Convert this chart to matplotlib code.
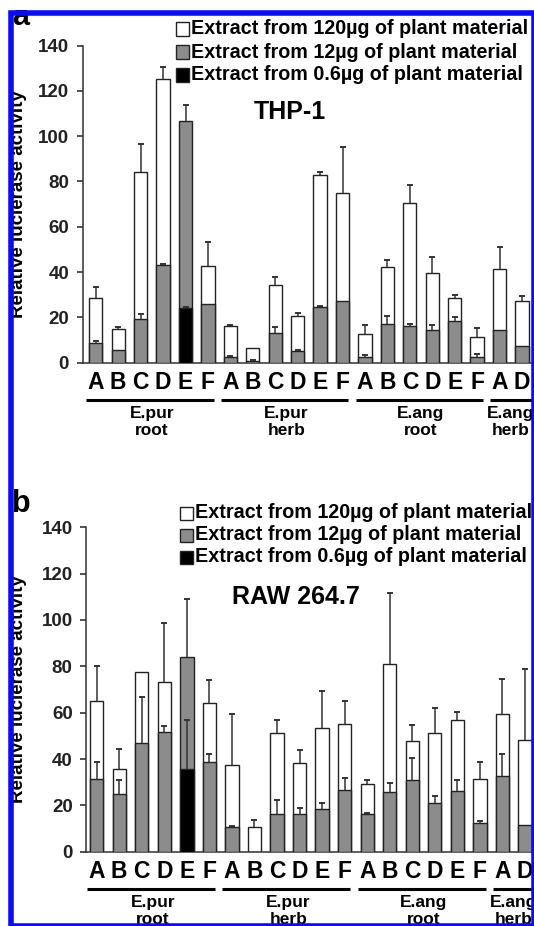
import numpy as np
import matplotlib
matplotlib.use('Agg')
import matplotlib.pyplot as plt
from matplotlib.patches import Rectangle

plt.rcParams['font.family'] = ['Liberation Sans', 'DejaVu Sans']
plt.rcParams['font.weight'] = 'bold'

W, H = 534, 926
nan = np.nan

letters = ['A', 'B', 'C', 'D', 'E', 'F'] * 3 + ['A', 'D']
group_names = ['E.pur\nroot', 'E.pur\nherb', 'E.ang\nroot', 'E.ang\nherb']
group_first = [0, 6, 12, 18]
group_last = [5, 11, 17, 19]

legend_labels = ['Extract from 120µg of plant material',
                 'Extract from 12µg of plant material',
                 'Extract from 0.6µg of plant material']
fills = ['white', '#8c8c8c', 'black']

# THP-1 (values, upper SD)
thp_120 = [28.4, 14.9, 84.3, 125.0, nan, 42.8, 16.0, 6.3, 34.4, 20.6,
           82.9, 75.0, 12.8, 42.2, 70.4, 39.4, 28.4, 11.5, 41.2, 27.2]
thp_120_sd = [5.1, 1.0, 12.2, 5.6, nan, 10.3, 0.5, 0, 3.5, 1.2,
              1.4, 20.0, 3.7, 3.1, 8.0, 7.4, 1.3, 3.8, 9.7, 2.2]
thp_12 = [8.5, 5.6, 19.4, 43.1, 106.7, 26.0, 2.6, 0.9, 13.2, 5.1,
          24.7, 27.1, 2.6, 17.1, 16.2, 14.3, 18.4, 2.6, 14.4, 7.5]
thp_12_sd = [1.1, 0, 1.9, 0.6, 7.0, 0, 0.4, 0.5, 2.7, 0.4,
             0.4, 0, 0.6, 3.5, 0.7, 2.2, 1.9, 1.1, 0, 0]
thp_06 = [nan] * 4 + [24.3] + [nan] * 15
thp_06_sd = [nan] * 4 + [0.3] + [nan] * 15

# RAW 264.7
raw_120 = [65.2, 35.5, 77.7, 73.4, nan, 64.2, 37.4, 10.8, 51.1, 38.3,
           53.5, 55.1, 29.4, 81.0, 47.8, 51.4, 56.8, 31.5, 59.4, 48.1]
raw_120_sd = [15.1, 8.8, 0, 25.3, nan, 10.0, 22.2, 2.9, 5.6, 5.4,
              15.7, 9.9, 1.4, 30.8, 7.0, 10.8, 3.5, 7.2, 15.0, 30.9]
raw_12 = [31.2, 25.0, 47.1, 51.7, 83.9, 38.8, 10.6, nan, 16.1, 16.1,
          18.3, 26.6, 16.1, 25.6, 30.9, 21.2, 26.2, 12.2, 32.5, 11.4]
raw_12_sd = [7.6, 5.9, 19.5, 2.7, 25.2, 3.4, 0.5, nan, 6.1, 2.6,
             2.6, 5.1, 0.4, 4.0, 9.4, 2.7, 4.6, 1.2, 9.7, 0]
raw_06 = [nan] * 4 + [35.7] + [nan] * 15
raw_06_sd = [nan] * 4 + [21.1] + [nan] * 15


def fx(px):
    return px / W


def fy(py):
    return 1 - py / H


def panel(fig, series, title, spine_x, first_x, step, y0, y140,
          title_xy, legend_x, legend_rows, tag, tag_y):
    xmin = (spine_x - first_x) / step
    xmax = 20.6
    ax = fig.add_axes([fx(spine_x), fy(y0), (xmax - xmin) * step / W, (y0 - y140) / H])
    ax_h = y0 - y140

    x = np.arange(20)
    for k, (vals, sd) in enumerate(series):
        vals = np.array(vals, float)
        sd = np.array(sd, float)
        m = ~np.isnan(vals)
        ax.bar(x[m], vals[m], width=0.59, color=fills[k], edgecolor='#222222',
               linewidth=1.0, zorder=2 + k)
        e = m & (np.nan_to_num(sd) > 0)
        ax.vlines(x[e], vals[e], vals[e] + sd[e], color='#333333', lw=1.1, zorder=6)
        ax.plot(x[e], vals[e] + sd[e], linestyle='none', marker='_', ms=4,
                mew=1.4, color='#333333', zorder=6)

    ax.set_xlim(xmin, xmax)
    ax.set_ylim(0, 140)
    ax.set_yticks(range(0, 141, 20))
    ax.set_xticks([])
    ax.tick_params(axis='y', length=4.3, width=1.1, pad=5.5, labelsize=13.5, colors='#222222')
    for s in ['top', 'right']:
        ax.spines[s].set_visible(False)
    for s in ['left', 'bottom']:
        ax.spines[s].set_linewidth(1.1)
        ax.spines[s].set_color('#333333')

    for i, lab in enumerate(letters):
        ax.annotate(lab, (i, 0), xycoords=('data', 'axes fraction'),
                    xytext=(0, -20), textcoords='offset pixels',
                    ha='center', va='center', fontsize=16.5, annotation_clip=False)

    tr = ax.get_xaxis_transform()
    for name, a, b in zip(group_names, group_first, group_last):
        end = b + 0.25 if b - a == 5 else xmax
        ax.plot([a - 0.42, end], [-37 / ax_h] * 2, color='black', lw=2.2,
                transform=tr, clip_on=False, solid_capstyle='butt')
        ax.annotate(name, ((a + b) / 2, 0), xycoords=('data', 'axes fraction'),
                    xytext=(0, -59), textcoords='offset pixels', ha='center',
                    va='center', fontsize=12.5, linespacing=1.15,
                    annotation_clip=False)

    fig.text(fx(19), fy((y0 + y140) / 2), 'Relative lucierase activity',
             rotation=90, ha='center', va='center', fontsize=13.5)
    fig.text(fx(title_xy[0]), fy(title_xy[1]), title, ha='center', va='center',
             fontsize=18)
    fig.text(fx(12), fy(tag_y), tag, ha='left', va='baseline', fontsize=22)

    for lab, col, ry in zip(legend_labels, fills, legend_rows):
        fig.add_artist(Rectangle((fx(legend_x), fy(ry + 6.5)), 13 / W, 13 / H,
                                 facecolor=col, edgecolor='#222222', lw=1.0,
                                 transform=fig.transFigure))
        fig.text(fx(legend_x + 15), fy(ry), lab, ha='left', va='center', fontsize=14.2)
    return ax


fig = plt.figure(figsize=(W / 100, H / 100), dpi=100)

panel(fig, [(thp_120, thp_120_sd), (thp_12, thp_12_sd), (thp_06, thp_06_sd)],
      'THP-1', 82.7, 95.8, 22.43, 362.7, 45.5,
      (290, 111.7), 176, [29, 52, 75], 'a', 25)

panel(fig, [(raw_120, raw_120_sd), (raw_12, raw_12_sd), (raw_06, raw_06_sd)],
      'RAW 264.7', 86.3, 96.7, 22.54, 851.7, 527.3,
      (296, 596.5), 180, [513, 535, 557], 'b', 512)

# white margin outside the blue frame (the original image is cropped there)
fig.add_artist(Rectangle((0, fy(9.7)), 1, 9.7 / H, facecolor='white',
                         edgecolor='none', transform=fig.transFigure, zorder=19))
fig.add_artist(Rectangle((0, 0), fx(8.2), 1, facecolor='white',
                         edgecolor='none', transform=fig.transFigure, zorder=19))
# blue frame
fig.add_artist(Rectangle((fx(11), fy(925.5)), (533.5 - 11) / W, (925.5 - 12.5) / H,
                         fill=False, edgecolor='#0a0aff', lw=4.0,
                         transform=fig.transFigure, zorder=20))

fig.savefig('out.png', dpi=100)
